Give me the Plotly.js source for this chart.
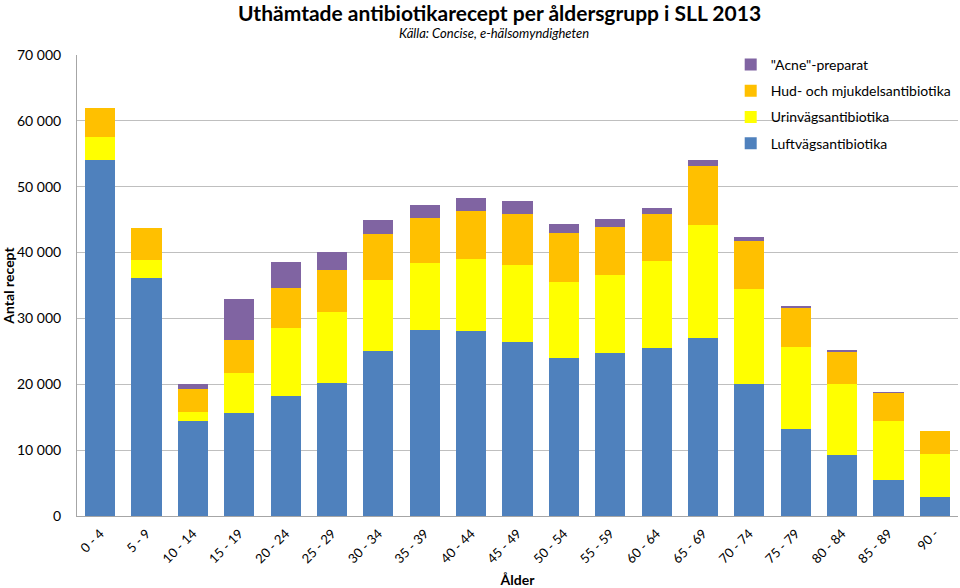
<!DOCTYPE html>
<html>
<head>
<meta charset="utf-8">
<script src="https://cdn.plot.ly/plotly-3.0.1.min.js"></script>
<style>html,body{margin:0;padding:0;background:#fff;}#chart{width:960px;height:588px;}</style>
</head>
<body>
<div id="chart"></div>
<script>
const categories = ["0 - 4","5 - 9","10 - 14","15 - 19","20 - 24","25 - 29","30 - 34","35 - 39","40 - 44","45 - 49","50 - 54","55 - 59","60 - 64","65 - 69","70 - 74","75 - 79","80 - 84","85 - 89","90 -"];
const luftvag = [54000,36100,14400,15600,18250,20200,25000,28300,28100,26400,24000,24800,25550,27100,20100,13200,9250,5500,2900];
const urinvag = [3500,2750,1380,6150,10250,10850,10850,10100,10850,11700,11600,11800,13150,17100,14300,12450,10850,9000,6500];
const hudmjuk = [4400,4950,3500,4950,6050,6250,6950,6900,7400,7800,7400,7300,7200,8900,7300,5950,4800,4250,3500];
const acne =    [0,0,700,6300,3950,2850,2150,1900,2000,1900,1350,1150,900,900,600,300,250,50,0];
const yTickVals = [0,10000,20000,30000,40000,50000,60000,70000];
const yTickText = ["0","10 000","20 000","30 000","40 000","50 000","60 000","70 000"];

const font = "Lato, 'Open Sans', sans-serif";
const mk = (name, y, color, g, rank) => ({type:'bar', name, legendgroup:g, legendrank:rank, x:categories, y, marker:{color, line:{width:0}}, hoverinfo:'y+name'});
const data = [
  mk("Luftvägsantibiotika", luftvag, "#4f81bd", "a", 4),
  mk("Urinvägsantibiotika", urinvag, "#ffff00", "b", 3),
  mk("Hud- och mjukdelsantibiotika", hudmjuk, "#ffc000", "c", 2),
  mk("\"Acne\"-preparat", acne, "#8064a2", "d", 1)
];
const layout = {
  width:960, height:588,
  margin:{l:77, r:2, t:55, b:72},
  barmode:'stack', bargap:0.35,
  paper_bgcolor:'#fff', plot_bgcolor:'#fff',
  font:{family:font, size:14, color:'#000'},
  showlegend:true,
  legend:{x:0.742, y:1.013, xanchor:'left', yanchor:'top', traceorder:'grouped', bgcolor:'rgba(0,0,0,0)', font:{size:14, family:font}, tracegroupgap:5, itemwidth:30},
  xaxis:{type:'category', tickangle:-45, tickfont:{size:13, family:font}, showline:true, linecolor:'#a6a6a6', linewidth:1, ticks:'outside', ticklen:4, tickcolor:'rgba(0,0,0,0)', showgrid:false,
    title:{text:'<b>Ålder</b>', font:{size:14, family:font}, standoff:10}},
  yaxis:{range:[0,70000], tickvals:yTickVals, ticktext:yTickText, showline:true, linecolor:'#a6a6a6', linewidth:1, showgrid:true, gridcolor:'#bfbfbf', gridwidth:1, zeroline:false, ticks:'outside', ticklen:12, tickcolor:'rgba(0,0,0,0)', tickfont:{size:14, family:font},
    title:{text:'<b>Antal recept</b>', font:{size:14, family:font}, standoff:2}},
  annotations:[
    {text:'<b>Uthämtade antibiotikarecept per åldersgrupp i SLL 2013</b>', xref:'paper', yref:'paper', x:0.48, y:1, yshift:43, xanchor:'center', yanchor:'middle', showarrow:false, font:{size:21, family:font}},
    {text:'<i>Källa: Concise, e-hälsomyndigheten</i>', xref:'paper', yref:'paper', x:0.473, y:1, yshift:22, xanchor:'center', yanchor:'middle', showarrow:false, font:{size:13, family:font}}
  ]
};
Plotly.newPlot('chart', data, layout, {displayModeBar:false, staticPlot:true});
</script>
</body>
</html>
